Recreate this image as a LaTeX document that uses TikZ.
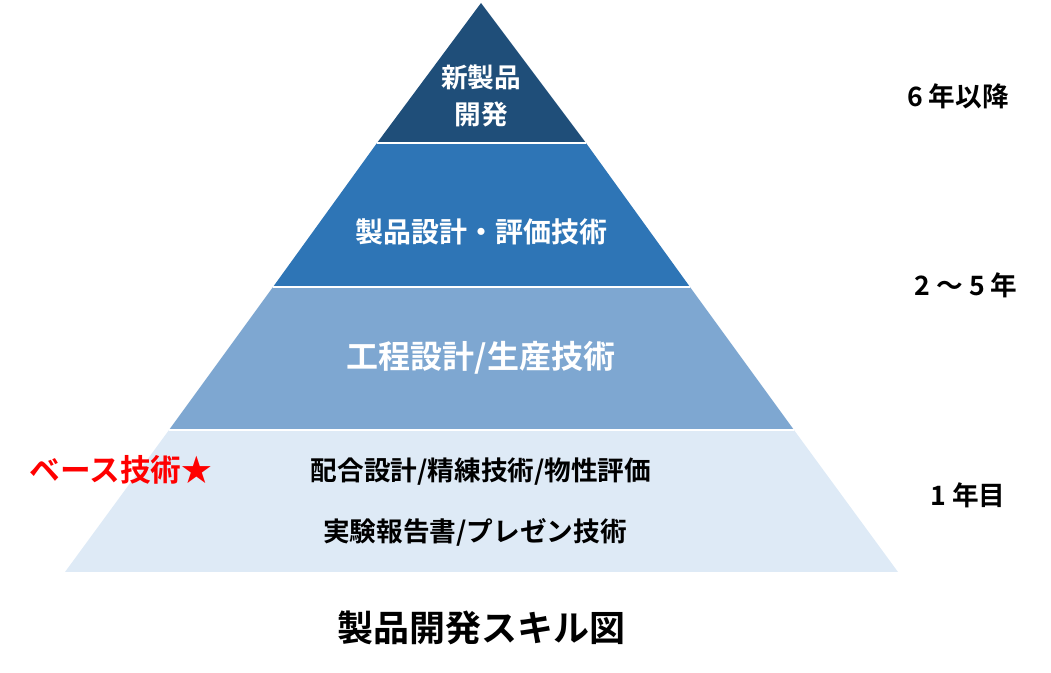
\documentclass[tikz,border=0pt]{standalone}
\usepackage{fontspec}
\setmainfont{Noto Sans CJK JP}[BoldFont={Noto Sans CJK JP Bold}]
\definecolor{lvltop}{HTML}{1F4E79}
\definecolor{lvltwo}{HTML}{2E75B6}
\definecolor{lvlthree}{HTML}{7EA7D1}
\definecolor{lvlbase}{HTML}{DEEAF6}
\begin{document}
\begin{tikzpicture} [
    x=0.75pt, y=-0.75pt,
    layer/.style  = { draw=white, line width=1.5pt },
    label/.style  = { font=\bfseries, text centered, align=center, inner sep=0pt },
    side/.style   = { label, font=\bfseries\fontsize{20}{24}\selectfont },
  ]
  \useasboundingbox (0,0) rectangle (1051,673);

  % pyramid layers
  \coordinate (apex) at (481,3);
  \fill[lvlbase]  (65,572) -- (898,572) -- (794,430) -- (169,430) -- cycle;
  \fill[lvlthree] (169,430) -- (794,430) -- (690,287) -- (273,287) -- cycle;
  \fill[lvltwo]   (273,287) -- (690,287) -- (586,143) -- (377,143) -- cycle;
  \fill[lvltop]   (377,143) -- (586,143) -- (apex) -- cycle;
  \draw[layer] (169,430) -- (794,430);
  \draw[layer] (273,287) -- (690,287);
  \draw[layer] (377,143) -- (586,143);

  % texts in layers
  \node[label, white, font=\bfseries\fontsize{20}{28}\selectfont] (top) at (481,96) {新製品\\開発};
  \node[label, white, font=\bfseries\fontsize{21}{26}\selectfont] (two) at (481,232) {製品設計・評価技術};
  \node[label, white, font=\bfseries\fontsize{24}{28}\selectfont] (three) at (481,358) {工程設計/生産技術};
  \node[label, font=\bfseries\fontsize{20}{24}\selectfont] (base1) at (481,472) {配合設計/精練技術/物性評価};
  \node[label, font=\bfseries\fontsize{20}{24}\selectfont] (base2) at (475,532) {実験報告書/プレゼン技術};

  % side labels
  \node[side] (yr6) at (958,96) {6 年以降};
  \node[side] (yr25) at (966,285) {2 ～ 5 年};
  \node[side] (yr1) at (968,495) {1 年目};
  \node[label, red, font=\bfseries\fontsize{23}{26}\selectfont] (basemark) at (121,470) {ベース技術★};

  % caption
  \node[label, font=\bfseries\fontsize{27}{30}\selectfont] (caption) at (481,628) {製品開発スキル図};
\end{tikzpicture}
\end{document}
